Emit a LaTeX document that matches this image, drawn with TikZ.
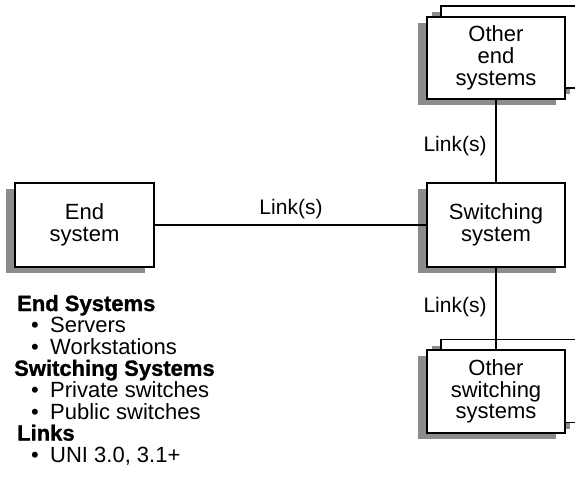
\documentclass[tikz,border=0pt]{standalone}
\usepackage{fontspec}
\setmainfont{Liberation Sans}
\newfontfamily\blackfont[FakeBold=1.2]{Liberation Sans Bold}
\usetikzlibrary{shadows}
\newcommand{\bul}{\makebox[19pt][l]{\textbullet}}
\begin{document}
\begin{tikzpicture}[x=1pt,y=-1pt,
  box/.style={draw, line width=1.1pt, fill=white, minimum width=138pt, minimum height=83pt,
    align=center, font=\fontsize{22}{21.7}\selectfont, inner sep=0pt},
  shade/.style={drop shadow={shadow xshift=-9pt, shadow yshift=-6pt, fill=black!45, opacity=1}},
  lbl/.style={font=\fontsize{21}{24}\selectfont, inner sep=0pt},
  wire/.style={line width=1.1pt},
  head/.style={anchor=base west, inner sep=0pt, font=\fontsize{22}{22}\selectfont\blackfont},
  item/.style={anchor=base west, inner sep=0pt, font=\fontsize{22}{22}\selectfont}]
\useasboundingbox (0,0) rectangle (575,497);
\clip (0,0) rectangle (575,497);
% boxes
\node[box, shade, minimum width=139pt, minimum height=84pt] (es) at (84.5,225) {End\\system};
\node[box, shade, minimum height=84pt] (sw) at (496,225) {Switching\\system};
\node[box, shade, minimum height=82pt] (oeb) at (510,47) {};
\node[box, shade, minimum height=82pt] (oe) at (496,58) {Other\\end\\systems};
\node[box, shade] (oswb) at (510,381) {};
\draw[wire] (sw.south) -- (496,350);
\node[box, shade] (osw) at (496,391.5) {Other\\switching\\systems};
% links
\draw[wire] (oe.south) -- (sw.north);
\draw[wire] (es.east) -- (sw.west);
\node[lbl] (l1) at (291,209) {Link(s)};
\node[lbl] (l2) at (455,146) {Link(s)};
\node[lbl] (l3) at (455,307) {Link(s)};
% legend
\node[head] (h1) at (17,311) {End Systems};
\node[item] (i1) at (31,332.6) {\bul Servers};
\node[item] (i2) at (31,354.2) {\bul Workstations};
\node[head] (h2) at (14,375.8) {Switching Systems};
\node[item] (i3) at (31,397.4) {\bul Private switches};
\node[item] (i4) at (31,419) {\bul Public switches};
\node[head] (h3) at (17,440.6) {Links};
\node[item] (i5) at (31,462.2) {\bul UNI 3.0, 3.1+};
\end{tikzpicture}
\end{document}
